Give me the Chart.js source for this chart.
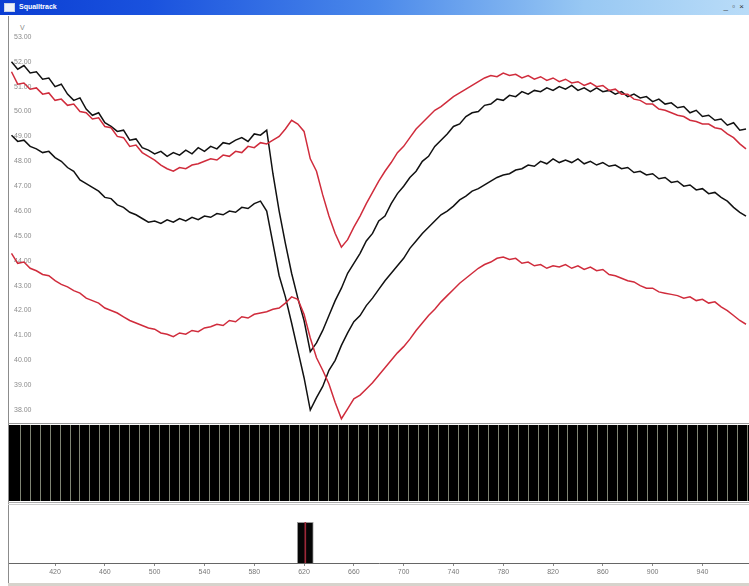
<!DOCTYPE html>
<html>
<head>
<meta charset="utf-8">
<title>Squalltrack</title>
<script src="https://cdn.jsdelivr.net/npm/chart.js@4.4.1/dist/chart.umd.min.js"></script>
<style>
  html, body { margin: 0; padding: 0; }
  body { width: 749px; height: 586px; overflow: hidden; position: relative; background: #fff;
         font-family: "Liberation Sans", Arial, sans-serif; }
  .titlebar { position: absolute; left: 0; top: 0; width: 749px; height: 15px;
    background: linear-gradient(to right, #0b3ed3 0%, #1a52de 20%, #4a88ea 50%, #98c8f3 78%, #b9dcf8 100%); }
  .titlebar .icon { position: absolute; left: 4px; top: 3px; width: 9px; height: 7px; background: #eef2fa; border: 1px solid #c8d4e8; }
  .titlebar .name { position: absolute; left: 19px; top: 2px; color: #fff; font-size: 7px; font-weight: bold; line-height: 10px; }
  .titlebar .btns { position: absolute; right: 4px; top: 2px; font-size: 8px; color: #333; letter-spacing: 1px; line-height: 10px; }
  .vline { position: absolute; left: 8px; top: 16px; width: 1px; height: 567px; background: #8c8c8c; }
  .hline { position: absolute; left: 8px; width: 741px; height: 1px; }
  canvas { position: absolute; }
  #unit { position: absolute; left: 20px; top: 24px; font-size: 7px; color: #888; }
</style>
</head>
<body>
<div class="titlebar"><div class="icon"></div><div class="name">Squalltrack</div><div class="btns">_ ▫ ×</div></div>
<div class="vline"></div>
<div id="unit">V</div>
<canvas id="traceChart" width="740" height="400" style="left:9px; top:22px;"></canvas>
<div class="hline" style="top:423px; background:#999;"></div>
<canvas id="bandChart" width="740" height="76" style="left:9px; top:425px; background:#000;"></canvas>
<div class="hline" style="top:502px; background:#aaa;"></div>
<div class="hline" style="top:504px; background:#ccc;"></div>
<canvas id="barChart" width="740" height="78" style="left:9px; top:505px;"></canvas>
<div class="hline" style="top:583px; height:3px; background:#d6d3cc;"></div>
<script>
// Sample times (x axis units)
const times = [
    385, 390, 395, 400, 405, 410, 415, 420, 425, 430,
    435, 440, 445, 450, 455, 460, 465, 470, 475, 480,
    485, 490, 495, 500, 505, 510, 515, 520, 525, 530,
    535, 540, 545, 550, 555, 560, 565, 570, 575, 580,
    585, 590, 595, 600, 605, 610, 615, 620, 625, 630,
    635, 640, 645, 650, 655, 660, 665, 670, 675, 680,
    685, 690, 695, 700, 705, 710, 715, 720, 725, 730,
    735, 740, 745, 750, 755, 760, 765, 770, 775, 780,
    785, 790, 795, 800, 805, 810, 815, 820, 825, 830,
    835, 840, 845, 850, 855, 860, 865, 870, 875, 880,
    885, 890, 895, 900, 905, 910, 915, 920, 925, 930,
    935, 940, 945, 950, 955, 960, 965, 970, 975
];

// Upper black trace
const blackUpper = [
    52.0, 51.7, 51.85, 51.55, 51.6, 51.3, 51.35, 51.0, 51.1, 50.7,
    50.45, 50.55, 50.1, 49.85, 49.95, 49.55, 49.4, 49.2, 49.25, 48.85,
    48.9, 48.55, 48.45, 48.3, 48.4, 48.2, 48.35, 48.25, 48.45, 48.3,
    48.55, 48.4, 48.6, 48.5, 48.75, 48.7, 48.85, 48.95, 48.8, 49.1,
    49.05, 49.25, 47.5, 46.0, 44.7, 43.5, 42.5, 41.6, 40.35, 40.7,
    41.2, 41.8, 42.4, 42.9, 43.5, 43.9, 44.3, 44.8, 45.1, 45.6,
    45.8, 46.3, 46.7, 47.0, 47.35, 47.6, 48.0, 48.2, 48.6, 48.85,
    49.1, 49.4, 49.5, 49.8, 49.95, 50.0, 50.25, 50.3, 50.5, 50.45,
    50.65, 50.6, 50.8, 50.7, 50.85, 50.8, 50.95, 50.85, 51.0, 50.9,
    51.05, 50.85, 50.95, 50.8, 50.95, 50.8, 50.85, 50.7, 50.8, 50.6,
    50.7, 50.55, 50.6, 50.4, 50.5, 50.3, 50.35, 50.15, 50.2, 49.95,
    50.05, 49.8, 49.85, 49.65, 49.7, 49.45, 49.55, 49.25, 49.3
];

// Upper red trace
const redUpper = [
    51.6, 51.1, 51.15, 50.9, 50.95, 50.7, 50.75, 50.45, 50.5, 50.25,
    50.3, 50.0, 49.95, 49.7, 49.75, 49.4, 49.35, 49.0, 48.95, 48.6,
    48.65, 48.35, 48.2, 48.05, 47.85, 47.7, 47.6, 47.75, 47.7, 47.85,
    47.9, 48.0, 48.1, 48.05, 48.25, 48.2, 48.4, 48.35, 48.6, 48.55,
    48.75, 48.7, 48.85, 49.0, 49.3, 49.65, 49.5, 49.2, 48.1, 47.6,
    46.65, 45.8, 45.1, 44.55, 44.85, 45.35, 45.8, 46.3, 46.75, 47.2,
    47.6, 47.95, 48.35, 48.6, 48.95, 49.3, 49.55, 49.8, 50.05, 50.2,
    50.4, 50.6, 50.75, 50.9, 51.05, 51.2, 51.35, 51.45, 51.4, 51.55,
    51.45, 51.5, 51.35, 51.45, 51.3, 51.4, 51.25, 51.35, 51.2, 51.3,
    51.15, 51.2, 51.05, 51.15, 51.0, 51.05, 50.85, 50.9, 50.7, 50.7,
    50.5, 50.45, 50.3, 50.3, 50.1, 50.05, 49.95, 49.85, 49.8, 49.65,
    49.6, 49.5, 49.5, 49.35, 49.3, 49.1, 48.95, 48.7, 48.5
];

// Lower black trace
const blackLower = [
    49.05, 48.8, 48.85, 48.6, 48.5, 48.35, 48.4, 48.15, 48.0, 47.75,
    47.6, 47.25, 47.1, 46.95, 46.8, 46.55, 46.5, 46.25, 46.15, 45.95,
    45.85, 45.7, 45.55, 45.6, 45.5, 45.65, 45.55, 45.7, 45.6, 45.75,
    45.65, 45.8, 45.75, 45.9, 45.85, 46.0, 45.95, 46.15, 46.1, 46.3,
    46.4, 46.0, 44.7, 43.4, 42.55, 41.5, 40.4, 39.3, 38.0, 38.5,
    38.95, 39.6, 40.0, 40.6, 41.1, 41.55, 41.8, 42.2, 42.5, 42.85,
    43.2, 43.5, 43.8, 44.1, 44.5, 44.8, 45.1, 45.35, 45.6, 45.85,
    46.0, 46.2, 46.45, 46.6, 46.8, 46.9, 47.05, 47.2, 47.35, 47.45,
    47.5, 47.65, 47.7, 47.85, 47.8, 48.0, 47.9, 48.1, 47.95, 48.05,
    47.95, 48.1, 47.9, 48.0, 47.85, 47.95, 47.8, 47.85, 47.7, 47.75,
    47.55, 47.6, 47.45, 47.5, 47.3, 47.35, 47.15, 47.2, 47.0, 47.05,
    46.85, 46.9, 46.7, 46.75, 46.55, 46.4, 46.15, 45.95, 45.8
];

// Lower red trace
const redLower = [
    44.3, 43.9, 43.95, 43.7, 43.6, 43.45, 43.4, 43.2, 43.05, 42.95,
    42.8, 42.7, 42.5, 42.4, 42.3, 42.1, 42.0, 41.9, 41.75, 41.6,
    41.5, 41.4, 41.3, 41.25, 41.1, 41.05, 40.95, 41.1, 41.05, 41.2,
    41.15, 41.3, 41.35, 41.45, 41.4, 41.6, 41.55, 41.75, 41.7, 41.85,
    41.9, 41.95, 42.05, 42.1, 42.3, 42.55, 42.45, 41.85, 40.9, 40.1,
    39.6, 39.05, 38.3, 37.65, 38.05, 38.45, 38.6, 38.85, 39.1, 39.4,
    39.7, 40.0, 40.3, 40.55, 40.85, 41.2, 41.5, 41.8, 42.05, 42.35,
    42.6, 42.85, 43.1, 43.3, 43.5, 43.7, 43.85, 43.95, 44.1, 44.15,
    44.05, 44.1, 43.9, 43.95, 43.8, 43.85, 43.7, 43.8, 43.75, 43.85,
    43.7, 43.8, 43.65, 43.75, 43.6, 43.65, 43.45, 43.4, 43.3, 43.2,
    43.15, 43.0, 42.9, 42.9, 42.75, 42.7, 42.65, 42.6, 42.5, 42.55,
    42.4, 42.45, 42.3, 42.35, 42.15, 42.0, 41.8, 41.6, 41.45
];

// Event marker in the bottom strip
const markerTimes = [621];
const markerLevel = [0.7];

// Tick labels
const yTickValues = [38, 39, 40, 41, 42, 43, 44, 45, 46, 47, 48, 49, 50, 51, 52, 53];
const xTickValues = [420, 460, 500, 540, 580, 620, 660, 700, 740, 780, 820, 860, 900, 940];

// Axis ranges
const xMin = 383;
const xMax = 977.4;
const yMin = 37.52;
const yMax = 53.6;

const labelFont = { family: '"Liberation Sans", Arial, sans-serif', size: 7 };

function toPoints(values) {
    return times.map((t, i) => ({ x: t, y: values[i] }));
}

// Grid positions of the black band (every 8 units)
const bandLines = [];
for (let v = 392; v < xMax; v += 8) bandLines.push(v);

// Main traces
new Chart(document.getElementById('traceChart'), {
    type: 'line',
    data: {
        datasets: [
            { data: toPoints(redUpper), borderColor: '#d02c3c' },
            { data: toPoints(redLower), borderColor: '#d02c3c' },
            { data: toPoints(blackUpper), borderColor: '#111111' },
            { data: toPoints(blackLower), borderColor: '#111111' }
        ].map(ds => Object.assign(ds, { borderWidth: 1.5, pointRadius: 0, tension: 0, fill: false }))
    },
    options: {
        responsive: false,
        animation: false,
        events: [],
        layout: { padding: 0 },
        plugins: { legend: { display: false }, tooltip: { enabled: false } },
        scales: {
            x: { type: 'linear', display: false, min: xMin, max: xMax },
            y: {
                min: yMin,
                max: yMax,
                afterBuildTicks: s => { s.ticks = yTickValues.map(v => ({ value: v })); },
                afterFit: s => { s.width = 0; s.paddingTop = 0; s.paddingBottom = 0; },
                grid: { display: false },
                border: { display: false },
                ticks: {
                    mirror: true,
                    padding: 5,
                    autoSkip: false,
                    color: '#8c8c8c',
                    font: labelFont,
                    callback: v => Number(v).toFixed(2)
                }
            }
        }
    }
});

// Black band with grid lines
new Chart(document.getElementById('bandChart'), {
    type: 'line',
    data: { datasets: [] },
    options: {
        responsive: false,
        animation: false,
        events: [],
        layout: { padding: 0 },
        plugins: { legend: { display: false }, tooltip: { enabled: false } },
        scales: {
            x: {
                type: 'linear',
                min: xMin,
                max: xMax,
                afterBuildTicks: s => { s.ticks = bandLines.map(v => ({ value: v })); },
                afterFit: s => { s.height = 0; s.paddingLeft = 0; s.paddingRight = 0; },
                ticks: { display: false },
                border: { display: false },
                grid: { color: '#7f8474', lineWidth: 1, drawTicks: false }
            },
            y: { display: false, min: 0, max: 1 }
        }
    }
});

// Bottom strip with marker bar and time axis
new Chart(document.getElementById('barChart'), {
    type: 'bar',
    data: {
        datasets: [
            {
                data: markerTimes.map((t, i) => ({ x: t, y: markerLevel[i] })),
                backgroundColor: '#9c2838',
                barThickness: 1,
                grouped: false
            },
            {
                data: markerTimes.map((t, i) => ({ x: t, y: markerLevel[i] })),
                backgroundColor: '#050505',
                borderColor: '#999',
                borderWidth: 1,
                barThickness: 16,
                grouped: false
            }
        ]
    },
    options: {
        responsive: false,
        animation: false,
        events: [],
        layout: { padding: 0 },
        plugins: { legend: { display: false }, tooltip: { enabled: false } },
        scales: {
            x: {
                type: 'linear',
                min: xMin,
                max: xMax,
                offset: false,
                afterBuildTicks: s => { s.ticks = xTickValues.map(v => ({ value: v })); },
                afterFit: s => { s.height = 20; s.paddingLeft = 0; s.paddingRight = 0; },
                grid: { offset: false, drawOnChartArea: false, drawTicks: true, tickLength: 3, color: '#888' },
                border: { color: '#666' },
                ticks: { color: '#777', font: labelFont, padding: 2, maxRotation: 0, autoSkip: false }
            },
            y: { display: false, min: 0, max: 1 }
        }
    }
});
</script>
</body>
</html>
